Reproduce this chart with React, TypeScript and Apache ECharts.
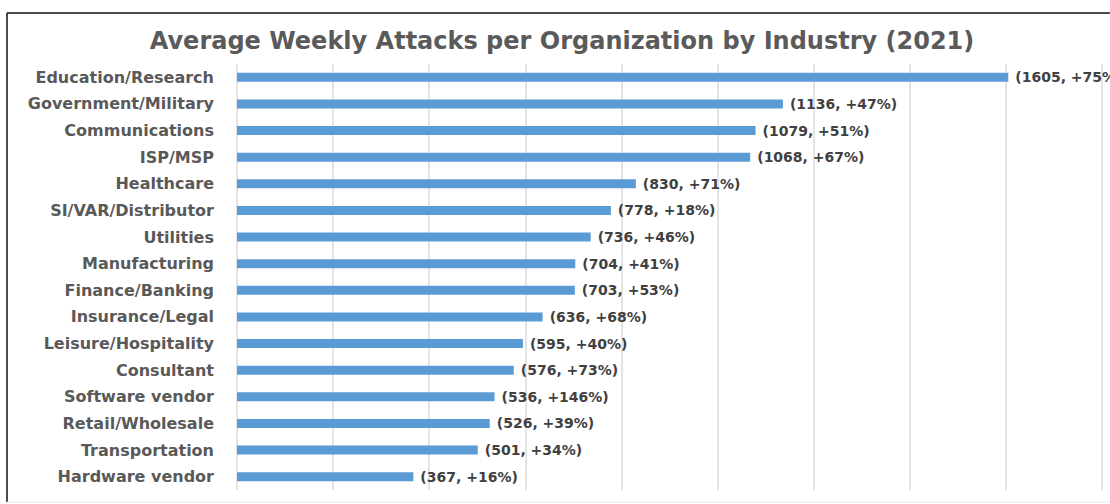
import React, { useEffect, useRef } from "react";
import * as echarts from "echarts";

const TITLE = "Average Weekly Attacks per Organization by Industry (2021)";
const categories = [
  "Education/Research",
  "Government/Military",
  "Communications",
  "ISP/MSP",
  "Healthcare",
  "SI/VAR/Distributor",
  "Utilities",
  "Manufacturing",
  "Finance/Banking",
  "Insurance/Legal",
  "Leisure/Hospitality",
  "Consultant",
  "Software vendor",
  "Retail/Wholesale",
  "Transportation",
  "Hardware vendor",
];
const attacks = [1605, 1136, 1079, 1068, 830, 778, 736, 704, 703, 636, 595, 576, 536, 526, 501, 367];
const changes = [75, 47, 51, 67, 71, 18, 46, 41, 53, 68, 40, 73, 146, 39, 34, 16];

export default function App() {
  const ref = useRef<HTMLDivElement>(null);
  useEffect(() => {
    if (!ref.current) return;
    const chart = echarts.init(ref.current, undefined, { renderer: "svg" });
    const font = "'DejaVu Sans', sans-serif";
    chart.setOption({
      animation: false,
      backgroundColor: "#ffffff",
      grid: { left: 237, right: 8, top: 64, bottom: 14, containLabel: false },
      xAxis: {
        type: "value",
        min: 0,
        max: 1800,
        interval: 200,
        axisLabel: { show: false },
        axisLine: { show: false },
        axisTick: { show: false },
        splitLine: { show: true, lineStyle: { color: "#e4e4e4", width: 2 } },
      },
      yAxis: {
        type: "category",
        inverse: true,
        data: categories,
        axisLine: { show: false },
        axisTick: { show: false },
        axisLabel: {
          margin: 23,
          color: "#595959",
          fontFamily: font,
          fontWeight: "bold",
          fontSize: 16,
        },
      },
      series: [
        {
          type: "bar",
          data: attacks,
          barWidth: 9,
          itemStyle: { color: "#5B9BD5" },
          label: {
            show: true,
            position: "right",
            distance: 7,
            color: "#404040",
            fontFamily: font,
            fontWeight: "bold",
            fontSize: 14,
            formatter: (p: any) => `(${attacks[p.dataIndex]}, +${changes[p.dataIndex]}%)`,
          },
        },
      ],
      graphic: [
        {
          type: "text",
          x: 562,
          y: 41,
          style: {
            text: TITLE,
            fill: "#5a5a5a",
            font: `bold 24px ${font}`,
            textAlign: "center",
            textVerticalAlign: "middle",
          },
        },
        { type: "line", shape: { x1: 7, y1: 13, x2: 1110, y2: 13 }, style: { stroke: "#111", lineWidth: 1.5 } },
        { type: "line", shape: { x1: 7, y1: 13, x2: 7, y2: 502 }, style: { stroke: "#111", lineWidth: 1.5 } },
        { type: "line", shape: { x1: 7, y1: 502, x2: 1110, y2: 502 }, style: { stroke: "#e8e8e8", lineWidth: 1 } },
      ],
    });
    return () => chart.dispose();
  }, []);
  return (
    <div
      ref={ref}
      style={{ position: "fixed", left: 0, top: 0, width: 1110, height: 504 }}
    />
  );
}
